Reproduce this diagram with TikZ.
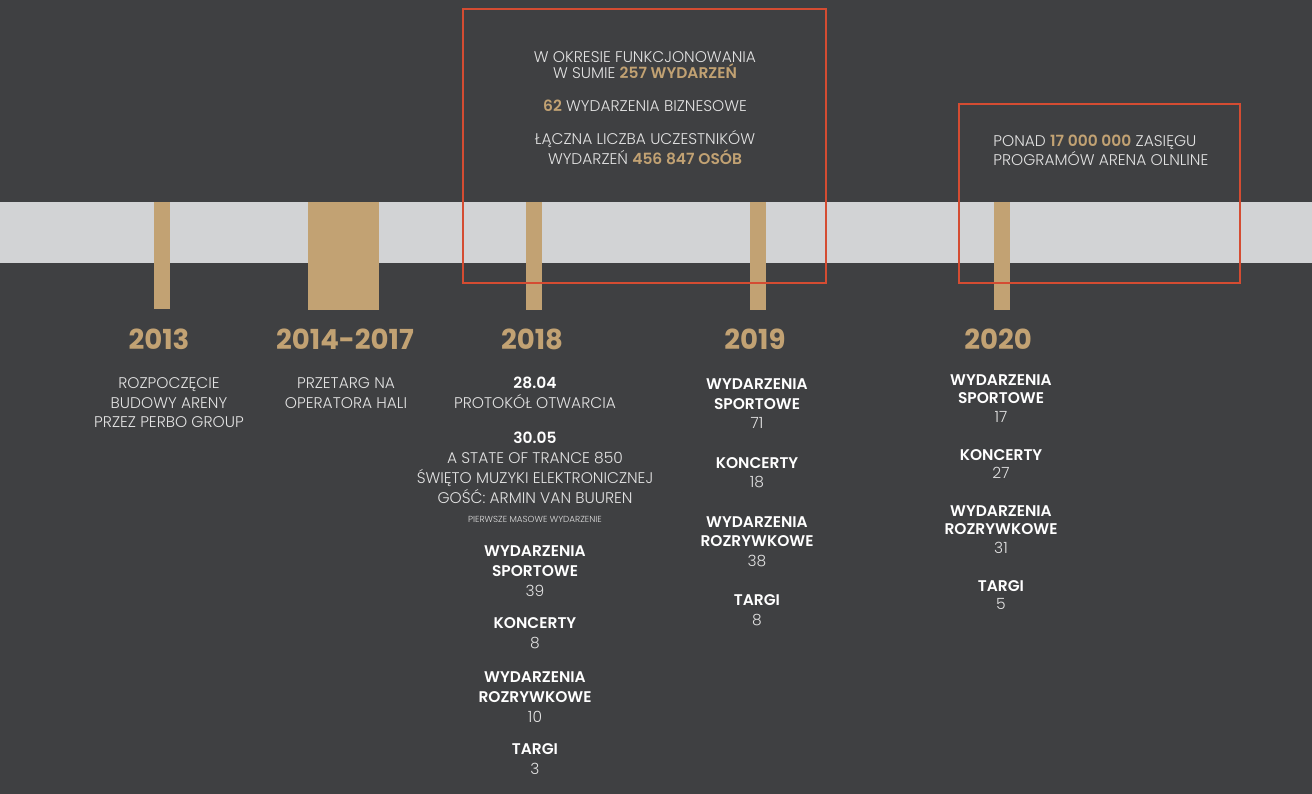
\documentclass[tikz,border=0pt]{standalone}
\usepackage{fontspec}
\setmainfont{Poppins}
\newfontfamily\thinfont{Poppins Light}
\usetikzlibrary{positioning}
\definecolor{bgdark}{RGB}{63,64,66}
\definecolor{band}{RGB}{210,211,213}
\definecolor{tan}{RGB}{194,162,115}
\definecolor{frame}{RGB}{212,76,50}
\definecolor{txt}{RGB}{226,226,226}
\newcommand{\hd}[1]{{\bfseries\color{white}#1}}   % bold white heading line
\newcommand{\hl}[1]{{\bfseries\color{tan}#1}}     % tan highlighted figure
\tikzset{
  post/.style={fill=tan,draw=none},
  frm/.style={draw=frame,line width=0.7pt},
  year/.style={font=\fontsize{15.7}{18}\selectfont\bfseries,text=tan,inner sep=0pt},
  desc/.style={font=\fontsize{8.8}{11.3}\selectfont\thinfont,text=txt,align=center,inner sep=0pt,anchor=north},
  boxtxt/.style={font=\fontsize{8.8}{9.4}\selectfont\thinfont,text=txt,inner sep=0pt,anchor=north},
  tiny/.style={font=\fontsize{4.8}{6}\selectfont\thinfont},
}
\begin{document}
\begin{tikzpicture}[x=0.02cm,y=-0.02cm]
  % background and timeline band
  \fill[bgdark] (0,0) rectangle (1312,794);
  \useasboundingbox (0,0) rectangle (1312,794);
  \fill[band] (0,202) rectangle (1312,263);
  % posts on the band
  \fill[post] (154,202) rectangle (170,309);
  \fill[post] (308,202) rectangle (379,310);
  \fill[post] (526,202) rectangle (542,310);
  \fill[post] (750,202) rectangle (766,310);
  \fill[post] (994,202) rectangle (1010,310);
  % summary frames
  \draw[frm] (463,9) rectangle (826,283);
  \draw[frm] (959,104) rectangle (1240,283);
  \node[boxtxt,align=center] (sum) at (645,51)
    {W OKRESIE FUNKCJONOWANIA\\W SUMIE \hl{257 WYDARZEŃ}\\[9.4pt]
     \hl{62} WYDARZENIA BIZNESOWE\\[9.4pt]
     ŁĄCZNA LICZBA UCZESTNIKÓW\\WYDARZEŃ \hl{456 847 OSÓB}};
  \node[boxtxt,align=left,anchor=north west] (online) at (993,135)
    {PONAD \hl{17 000 000} ZASIĘGU\\PROGRAMÓW ARENA OLNLINE};
  % years
  \node[year] (y13) at (159,339) {2013};
  \node[year] (y14) at (345,339) {2014-2017};
  \node[year] (y18) at (532,339) {2018};
  \node[year] (y19) at (755,339) {2019};
  \node[year] (y20) at (998,339) {2020};
  % descriptions under the years
  \node[desc] (d13) at (169,377) {ROZPOCZĘCIE\\BUDOWY ARENY\\PRZEZ PERBO GROUP};
  \node[desc] (d14) at (346,377) {PRZETARG NA\\OPERATORA HALI};
  \node[desc] (d18) at (535,377)
    {\hd{28.04}\\PROTOKÓŁ OTWARCIA\\[8.5pt]
     \hd{30.05}\\A STATE OF TRANCE 850\\ŚWIĘTO MUZYKI ELEKTRONICZNEJ\\GOŚĆ: ARMIN VAN BUUREN\\
     {\tiny PIERWSZE MASOWE WYDARZENIE}\\[8pt]
     \hd{WYDARZENIA}\\\hd{SPORTOWE}\\39\\[7pt]
     \hd{KONCERTY}\\8\\[8pt]
     \hd{WYDARZENIA}\\\hd{ROZRYWKOWE}\\10\\[7pt]
     \hd{TARGI}\\3};
  \node[desc] (d19) at (757,378)
    {\hd{WYDARZENIA}\\\hd{SPORTOWE}\\71\\[11pt]
     \hd{KONCERTY}\\18\\[11pt]
     \hd{WYDARZENIA}\\\hd{ROZRYWKOWE}\\38\\[11pt]
     \hd{TARGI}\\8};
  \node[desc,font=\fontsize{8.8}{10.6}\selectfont\thinfont] (d20) at (1001,374)
    {\hd{WYDARZENIA}\\\hd{SPORTOWE}\\17\\[10.8pt]
     \hd{KONCERTY}\\27\\[10.8pt]
     \hd{WYDARZENIA}\\\hd{ROZRYWKOWE}\\31\\[10.8pt]
     \hd{TARGI}\\5};
\end{tikzpicture}
\end{document}
